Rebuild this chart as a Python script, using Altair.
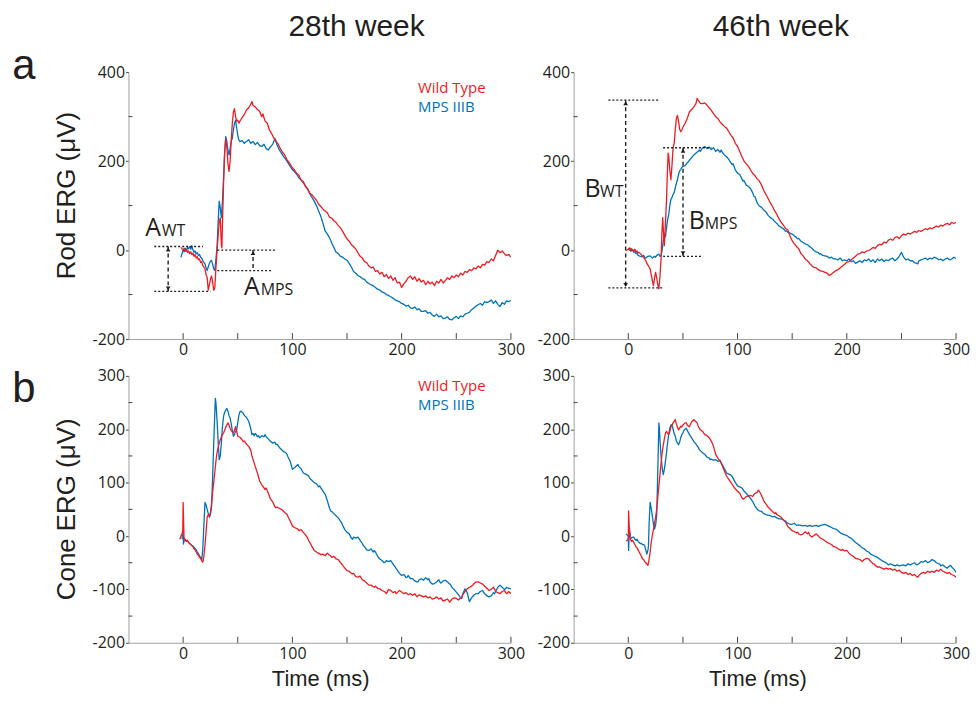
import altair as alt
import pandas as pd

RED = "#ED1C24"
BLUE = "#0072BC"
INK = "#231F20"

COLUMN_TITLES = ["28th week", "46th week"]
ROW_LETTERS = ["a", "b"]
Y_TITLES = ["Rod ERG (\u03bcV)", "Cone ERG (\u03bcV)"]
X_TITLE = "Time (ms)"
LEGEND = ["Wild Type", "MPS IIIB"]

X_DOMAIN = [-50, 300]
X_LABELS = [0, 100, 200, 300]
X_TICKS = [0, 50, 100, 150, 200, 250, 300]
ROD_DOMAIN = [-200, 400]
ROD_LABELS = [-200, 0, 200, 400]
ROD_MINOR = [-100, 100, 300]
CONE_DOMAIN = [-200, 300]
CONE_LABELS = [-200, -100, 0, 100, 200, 300]
CONE_MINOR = [-150, -50, 50, 150, 250]

# ---- traces (t in ms, value in uV) ----
ROD28_WT = [(-2,6),(0,0),(1,4),(2,-3),(3,2),(4,-5),(5,-2),(6,-8),(7,-4),(8,-10),(9,-7),(10,-14),(11,-10),(12,-18),(13,-15),(14,-22),(15,-20),(16,-28),(17,-26),(18,-35),(19,-38),(20,-42),(21,-55),(22,-62),(23,-90),(24,-78),(25,-65),(26,-58),(27,-72),(28,-90),(29,-85),(30,-40),(31,-5),(32,30),(33,65),(34,72),(35,10),(35.5,5),(36,60),(37,150),(38,220),(39,250),(40,232),(41,195),(42,177),(43,200),(44,245),(45,285),(46,310),(47,318),(48,300),(49,290),(50,292),(51,285),(52,290),(54,298),(56,305),(58,315),(60,320),(62,328),(63,334),(64,325),(66,322),(68,316),(70,312),(72,300),(73,306),(75,290),(77,285),(79,270),(81,262),(83,252),(85,245),(87,238),(89,228),(91,220),(93,214),(95,203),(97,197),(100,185),(102,180),(104,172),(106,168),(108,157),(110,154),(112,143),(114,138),(116,128),(118,124),(120,118),(122,112),(124,103),(126,98),(128,92),(130,88),(132,84),(134,74),(136,72),(138,66),(140,62),(142,55),(144,50),(146,42),(148,33),(150,25),(152,20),(154,12),(156,8),(158,2),(160,-6),(162,-14),(164,-18),(166,-26),(168,-28),(170,-36),(172,-40),(174,-38),(176,-48),(178,-46),(180,-54),(182,-50),(184,-60),(186,-55),(188,-64),(190,-58),(192,-68),(194,-62),(196,-74),(198,-72),(200,-84),(202,-76),(204,-70),(206,-62),(208,-58),(210,-66),(212,-60),(214,-70),(216,-64),(218,-72),(220,-68),(222,-78),(224,-70),(226,-76),(228,-72),(230,-80),(232,-70),(234,-74),(236,-66),(238,-74),(240,-68),(242,-62),(244,-66),(246,-58),(248,-62),(250,-56),(252,-60),(254,-52),(256,-56),(258,-48),(260,-50),(262,-44),(264,-46),(266,-40),(268,-42),(270,-36),(272,-40),(274,-32),(276,-34),(278,-26),(280,-28),(282,-20),(284,-24),(286,-12),(288,0),(290,-6),(292,-2),(294,-8),(296,-12),(298,-10),(300,-16)]

ROD28_MPS = [(-2,-16),(-1,-8),(0,0),(1,-4),(2,4),(3,-2),(4,6),(5,3),(6,8),(7,2),(8,10),(9,0),(10,-5),(11,-2),(12,-8),(13,-6),(14,-12),(15,-10),(16,-16),(17,-18),(18,-24),(19,-28),(20,-31),(21,-40),(22,-46),(23,-38),(24,-30),(25,-25),(26,-23),(27,-32),(28,-42),(29,-46),(30,-20),(31,6),(32,60),(33,110),(34,95),(35,73),(36,110),(37,162),(38,220),(39,255),(40,245),(41,225),(42,214),(43,228),(44,245),(45,251),(46,270),(47,285),(48,292),(49,275),(50,258),(51,248),(52,244),(54,246),(56,240),(58,244),(60,248),(62,240),(64,244),(66,237),(68,242),(70,235),(72,233),(74,238),(76,228),(78,225),(80,232),(82,238),(84,251),(86,236),(88,225),(90,218),(92,210),(94,204),(96,196),(98,188),(100,181),(102,176),(104,170),(106,162),(108,158),(110,151),(112,144),(114,136),(116,126),(118,118),(120,110),(122,100),(124,88),(126,76),(128,60),(130,43),(132,36),(134,28),(136,16),(138,6),(140,-5),(142,-8),(144,-14),(146,-16),(148,-20),(150,-23),(152,-30),(154,-38),(156,-48),(158,-52),(160,-57),(162,-60),(164,-64),(166,-66),(168,-72),(170,-75),(172,-78),(174,-80),(176,-84),(178,-88),(180,-90),(182,-94),(184,-96),(186,-100),(188,-102),(190,-105),(192,-108),(194,-112),(196,-114),(198,-116),(200,-120),(202,-122),(204,-126),(206,-124),(208,-130),(210,-131),(212,-128),(214,-134),(216,-132),(218,-138),(220,-138),(222,-136),(224,-142),(226,-140),(228,-146),(230,-149),(232,-144),(234,-150),(236,-148),(238,-154),(240,-153),(242,-150),(244,-156),(246,-157),(248,-152),(250,-149),(252,-154),(254,-148),(256,-150),(258,-144),(260,-142),(262,-140),(264,-134),(266,-130),(268,-126),(270,-123),(272,-120),(274,-124),(276,-116),(278,-118),(280,-116),(282,-112),(284,-120),(286,-114),(288,-122),(290,-127),(292,-118),(294,-122),(296,-114),(298,-116),(300,-113)]

ROD46_WT = [(-2,-1),(0,2),(1,5),(2,-2),(3,3),(4,0),(5,-1),(6,2),(7,-4),(8,-2),(9,-6),(10,-5),(11,-8),(12,-10),(13,-14),(14,-16),(15,-20),(16,-24),(17,-30),(18,-34),(19,-38),(20,-42),(21,-55),(22,-68),(23,-80),(24,-64),(25,-50),(26,-62),(27,-78),(28,-87),(29,-60),(30,-20),(30.8,40),(31.5,73),(32.2,40),(33,10),(34,60),(35,114),(36,190),(36.5,218),(37,212),(38,180),(39,158),(40,190),(41,230),(42,240),(43,270),(44,295),(45,303),(46,290),(47,272),(48,266),(49,270),(50,276),(52,285),(54,296),(56,311),(58,316),(60,322),(62,330),(63,341),(64,337),(66,330),(68,329),(70,331),(72,326),(74,320),(76,314),(78,307),(80,300),(82,296),(84,288),(86,283),(88,278),(90,274),(92,266),(94,258),(96,252),(98,240),(100,233),(102,222),(104,210),(106,200),(108,194),(110,188),(112,180),(114,172),(116,167),(118,160),(120,155),(122,146),(124,134),(126,125),(128,116),(130,106),(132,98),(134,88),(136,80),(138,70),(140,62),(142,56),(144,48),(146,46),(148,32),(150,21),(152,14),(154,8),(156,3),(158,-8),(160,-13),(162,-20),(164,-24),(166,-30),(168,-35),(170,-39),(172,-40),(174,-44),(176,-47),(178,-48),(180,-50),(182,-52),(184,-57),(186,-54),(188,-50),(190,-46),(192,-44),(194,-40),(196,-36),(198,-32),(200,-27),(202,-26),(204,-22),(206,-18),(208,-14),(210,-9),(212,-8),(214,-4),(216,-6),(218,-2),(220,-1),(222,2),(224,6),(226,4),(228,10),(230,13),(232,12),(234,18),(236,16),(238,22),(240,25),(242,22),(244,28),(246,30),(248,26),(250,32),(252,36),(254,34),(256,38),(258,36),(260,39),(262,42),(264,40),(266,44),(268,42),(270,45),(272,48),(274,46),(276,50),(278,48),(280,51),(282,54),(284,52),(286,56),(288,54),(290,58),(292,60),(294,57),(296,62),(298,60),(300,62)]

ROD46_MPS = [(0,2),(1,0),(2,4),(3,-2),(4,0),(5,-5),(6,-3),(7,-8),(8,-6),(9,-12),(10,-13),(12,-15),(14,-12),(15,-16),(16,-18),(18,-14),(20,-13),(22,-18),(24,-14),(25,-16),(26,-12),(28,-9),(29,-14),(30,-13),(31,0),(32,20),(33,32),(34,30),(35,50),(36,69),(37,80),(38,100),(39,114),(40,118),(41,125),(42,129),(43,140),(44,150),(45,158),(46,170),(47,178),(48,181),(49,186),(50,188),(52,190),(54,196),(55,199),(56,202),(58,208),(60,214),(62,218),(64,222),(65,225),(66,222),(68,230),(70,233),(72,228),(74,232),(75,229),(76,226),(78,230),(80,222),(82,226),(84,220),(85,225),(86,220),(88,214),(90,210),(92,204),(94,196),(95,192),(96,194),(98,180),(100,173),(102,170),(104,160),(105,155),(106,156),(108,146),(110,143),(112,138),(114,128),(115,121),(116,120),(118,106),(120,99),(122,96),(124,90),(125,88),(126,86),(128,78),(130,73),(132,70),(134,64),(135,62),(136,60),(138,54),(140,51),(142,48),(144,42),(145,43),(146,40),(148,38),(150,36),(152,32),(154,28),(155,25),(156,26),(158,20),(160,17),(162,14),(164,12),(165,10),(166,8),(168,4),(170,-1),(172,-4),(174,-6),(175,-9),(176,-8),(178,-12),(180,-13),(182,-14),(184,-18),(186,-16),(188,-20),(190,-20),(192,-22),(194,-18),(196,-24),(198,-22),(200,-24),(202,-20),(204,-26),(206,-24),(208,-30),(210,-27),(212,-24),(214,-28),(216,-22),(218,-24),(220,-20),(222,-26),(224,-22),(226,-28),(228,-20),(230,-24),(232,-20),(234,-26),(236,-22),(238,-24),(240,-20),(242,-18),(244,-24),(246,-20),(248,-14),(250,-5),(252,-16),(254,-22),(256,-20),(258,-24),(260,-24),(262,-28),(264,-30),(265,-31),(266,-24),(268,-22),(270,-20),(272,-18),(274,-22),(276,-18),(278,-20),(280,-16),(282,-18),(284,-22),(286,-20),(288,-24),(290,-20),(292,-18),(294,-22),(296,-20),(298,-16),(300,-19)]

CONE28_WT = [(-3,-6),(-2,0),(-1,4),(-0.3,10),(0,63),(0.4,30),(0.8,-2),(1.5,-9),(2,-6),(3,-10),(4,-8),(5,-12),(6,-14),(7,-16),(8,-18),(9,-20),(10,-24),(11,-26),(12,-30),(13,-34),(14,-36),(15,-40),(16,-42),(17,-46),(18,-49),(19,-38),(20,-18),(21,8),(22,35),(23,40),(24,38),(25,44),(26,60),(27,82),(28,100),(29,120),(30,140),(31,156),(32,165),(33,174),(34,180),(35,186),(36,190),(37,193),(38,198),(39,204),(40,208),(41,212),(42,208),(43,202),(44,198),(45,195),(46,193),(47,198),(48,205),(49,196),(50,187),(52,185),(54,180),(55,177),(56,178),(58,172),(60,168),(62,160),(63,150),(65,137),(66,130),(68,118),(70,103),(72,96),(74,90),(75,87),(76,90),(78,80),(80,69),(82,64),(84,55),(85,53),(86,54),(88,52),(90,50),(92,46),(94,42),(95,41),(96,36),(98,28),(100,19),(102,16),(104,14),(105,13),(106,10),(108,12),(110,7),(112,2),(114,-4),(115,-9),(116,-12),(118,-20),(120,-27),(122,-30),(124,-33),(125,-33),(126,-35),(128,-34),(130,-37),(132,-32),(134,-36),(135,-37),(136,-40),(138,-38),(140,-43),(142,-44),(144,-50),(145,-52),(146,-55),(148,-60),(150,-65),(152,-66),(154,-70),(155,-71),(156,-70),(158,-76),(160,-77),(162,-75),(164,-82),(165,-83),(166,-84),(168,-88),(170,-92),(172,-92),(174,-95),(175,-96),(176,-94),(178,-98),(180,-99),(182,-102),(184,-104),(185,-105),(186,-108),(188,-100),(190,-102),(192,-106),(194,-104),(195,-108),(196,-106),(198,-102),(200,-105),(202,-108),(204,-106),(206,-110),(208,-108),(210,-111),(212,-108),(214,-114),(216,-110),(218,-112),(220,-114),(222,-112),(224,-116),(226,-114),(228,-118),(230,-117),(232,-114),(234,-118),(236,-116),(238,-122),(240,-120),(242,-118),(244,-124),(246,-118),(248,-116),(250,-117),(252,-120),(254,-116),(255,-114),(256,-110),(258,-104),(260,-99),(262,-96),(264,-94),(265,-92),(266,-90),(268,-86),(270,-86),(272,-88),(274,-90),(275,-92),(276,-94),(278,-98),(280,-102),(282,-100),(284,-96),(285,-99),(286,-104),(288,-106),(290,-108),(292,-104),(294,-102),(295,-105),(296,-108),(298,-104),(300,-108)]

CONE28_MPS = [(-1,-6),(-0.3,2),(0,7),(0.3,-15),(0.8,-8),(1.5,-6),(2,-8),(3,-10),(4,-9),(5,-12),(6,-14),(7,-16),(8,-18),(9,-19),(10,-21),(11,-24),(12,-26),(13,-30),(14,-33),(15,-37),(16,-40),(17,-46),(18,-24),(19,20),(20,63),(21,58),(22,50),(23,42),(24,35),(25,40),(26,56),(27,110),(28,174),(29,230),(29.5,258),(30,250),(31,218),(32,180),(33,143),(34,150),(35,174),(36,205),(37,224),(38,232),(39,236),(40,239),(41,234),(42,226),(43,221),(44,210),(45,198),(46,187),(47,190),(48,196),(49,199),(50,212),(51,226),(52,233),(53,234),(54,232),(55,230),(56,226),(58,222),(60,215),(61,208),(62,200),(63,190),(64,192),(65,188),(66,192),(67,190),(68,186),(69,188),(70,184),(72,188),(74,186),(75,190),(76,186),(78,182),(80,177),(82,174),(84,176),(85,171),(86,172),(88,166),(90,162),(92,158),(94,156),(95,153),(96,148),(98,140),(100,125),(102,128),(104,132),(105,134),(106,130),(108,126),(110,118),(112,116),(114,114),(115,112),(116,108),(118,104),(120,100),(122,98),(124,92),(125,94),(126,90),(128,84),(130,78),(132,66),(134,52),(135,47),(136,46),(138,42),(140,38),(142,34),(144,28),(145,25),(146,20),(148,12),(150,7),(152,4),(154,-4),(155,-6),(156,-2),(158,-4),(160,-2),(162,-8),(164,-14),(165,-18),(166,-20),(168,-26),(170,-27),(172,-24),(174,-30),(175,-27),(176,-30),(178,-38),(180,-43),(182,-46),(184,-50),(185,-49),(186,-46),(188,-48),(190,-46),(192,-52),(194,-58),(195,-61),(196,-64),(198,-70),(200,-74),(202,-72),(204,-78),(205,-77),(206,-74),(208,-80),(210,-80),(212,-84),(214,-86),(215,-86),(216,-82),(218,-80),(220,-83),(222,-78),(224,-82),(225,-80),(226,-86),(228,-90),(230,-89),(232,-86),(234,-82),(235,-86),(236,-88),(238,-84),(240,-83),(242,-86),(244,-90),(245,-92),(246,-96),(248,-100),(250,-105),(252,-110),(254,-116),(255,-117),(256,-108),(258,-99),(260,-106),(262,-123),(264,-116),(266,-111),(268,-108),(270,-108),(272,-104),(274,-102),(275,-105),(276,-108),(278,-112),(280,-114),(282,-112),(284,-106),(285,-108),(286,-104),(288,-96),(290,-92),(292,-96),(294,-100),(295,-99),(296,-96),(298,-98),(300,-99)]

CONE46_WT = [(-2,-9),(-1,-8),(0,-6),(0.3,47),(0.8,20),(1.5,1),(2,-6),(3,-10),(4,-8),(5,-12),(6,-16),(7,-20),(8,-22),(9,-26),(10,-30),(11,-34),(12,-38),(13,-43),(14,-44),(15,-48),(16,-50),(17,-52),(18,-55),(19,-44),(20,-30),(21,-12),(22,1),(23,12),(24,24),(25,35),(26,50),(27,72),(28,94),(29,115),(30,136),(31,156),(32,170),(33,182),(34,193),(35,196),(36,192),(37,190),(38,196),(39,204),(40,208),(41,212),(42,215),(43,218),(44,210),(45,204),(46,199),(47,202),(48,206),(49,204),(50,208),(51,210),(52,212),(53,212),(54,208),(55,206),(56,205),(57,210),(58,214),(59,216),(60,218),(61,216),(62,214),(63,212),(64,206),(65,202),(66,199),(68,196),(70,190),(72,188),(74,184),(75,181),(76,178),(78,168),(80,153),(82,146),(84,140),(85,137),(86,132),(88,122),(90,112),(92,106),(94,100),(95,97),(96,94),(98,88),(100,84),(102,80),(104,72),(105,69),(106,70),(108,74),(110,75),(112,76),(114,74),(115,78),(116,80),(118,82),(119,86),(120,84),(122,76),(124,66),(125,63),(126,60),(128,54),(130,50),(132,46),(134,42),(135,44),(136,40),(138,38),(140,35),(142,30),(144,26),(145,22),(146,18),(148,14),(150,10),(152,8),(154,6),(155,7),(156,4),(158,2),(160,4),(162,8),(164,4),(165,7),(166,2),(168,-2),(170,1),(172,4),(174,0),(175,-2),(176,-4),(178,-6),(180,-9),(182,-12),(184,-14),(185,-15),(186,-16),(188,-20),(190,-21),(192,-24),(194,-26),(195,-27),(196,-25),(198,-28),(200,-27),(202,-32),(204,-36),(205,-37),(206,-38),(208,-42),(210,-43),(212,-44),(214,-48),(215,-46),(216,-44),(218,-42),(220,-43),(222,-48),(224,-52),(225,-52),(226,-55),(228,-58),(230,-58),(232,-60),(234,-62),(236,-60),(238,-62),(240,-61),(242,-64),(244,-62),(246,-66),(248,-64),(250,-68),(252,-70),(254,-68),(256,-72),(258,-70),(260,-74),(262,-72),(264,-76),(265,-77),(266,-74),(268,-70),(270,-68),(272,-70),(274,-66),(276,-68),(278,-66),(280,-68),(282,-64),(284,-66),(286,-62),(288,-66),(290,-68),(292,-70),(294,-68),(295,-71),(296,-72),(298,-74),(300,-77)]

CONE46_MPS = [(-2,4),(-1,2),(0,1),(0.3,-27),(0.6,-10),(0.9,16),(1.5,5),(2,-2),(3,-4),(4,-2),(5,-2),(6,-6),(7,-8),(8,-6),(9,-10),(10,-12),(11,-14),(12,-14),(13,-16),(14,-16),(15,-18),(16,-26),(17,-34),(18,-26),(18.5,-18),(19,20),(20,63),(21,52),(22,38),(23,22),(24,13),(25,20),(26,38),(27,120),(28,212),(28.5,200),(29,180),(30,150),(31,128),(32,115),(33,125),(34,140),(35,156),(36,175),(37,190),(38,202),(39,208),(40,208),(41,200),(42,192),(43,187),(44,178),(45,174),(46,171),(47,176),(48,184),(49,190),(50,193),(51,198),(52,200),(53,202),(54,198),(55,194),(56,190),(58,184),(60,177),(62,172),(64,166),(65,162),(66,160),(68,156),(70,153),(72,148),(74,146),(75,143),(76,144),(78,142),(80,143),(82,140),(84,142),(85,137),(86,134),(88,126),(90,118),(92,116),(94,114),(95,112),(96,108),(98,100),(100,94),(102,92),(104,90),(105,87),(106,84),(108,80),(110,75),(112,70),(114,64),(115,60),(116,56),(118,50),(120,47),(122,46),(124,42),(125,41),(126,40),(128,39),(130,38),(132,36),(134,37),(135,35),(136,34),(138,32),(140,32),(142,30),(144,28),(145,25),(146,24),(148,22),(150,22),(152,24),(154,20),(156,21),(158,20),(160,19),(162,20),(164,18),(166,20),(168,18),(170,19),(172,20),(174,18),(176,20),(178,21),(180,22),(182,20),(184,18),(186,16),(188,14),(190,13),(192,10),(194,6),(196,4),(198,2),(200,1),(202,-2),(204,-4),(206,-8),(208,-12),(210,-15),(212,-18),(214,-22),(216,-24),(218,-28),(220,-30),(222,-34),(224,-36),(226,-38),(228,-40),(230,-43),(232,-46),(234,-48),(236,-50),(238,-54),(240,-52),(242,-54),(244,-56),(246,-54),(248,-56),(250,-55),(252,-54),(254,-56),(256,-52),(258,-54),(260,-52),(262,-50),(264,-54),(266,-52),(268,-48),(270,-49),(272,-46),(274,-50),(276,-48),(278,-44),(280,-46),(282,-50),(284,-52),(285,-52),(286,-56),(288,-54),(290,-58),(292,-60),(294,-56),(295,-55),(296,-58),(298,-62),(300,-68)]

# ---- annotations (data units) ----
ROD28_DOTTED = [(-26.4, 18.2, 8), (-26.4, 25, -93), (31.3, 86, 0), (31.3, 81.5, -46)]
ROD28_ARROWS = [(-13.7, 8, -93), (64, 0, -46)]
ROD28_HEADS_UP = [(-13.7, 8), (64, 0)]
ROD28_HEADS_DOWN = [(-13.7, -93)]
ROD28_BIG = [("A", -34.6, 32), ("A", 55.6, -100)]
ROD28_SMALL = [("WT", -19.5, 32), ("MPS", 71, -100)]

ROD46_DOTTED = [(-18.2, 28.8, 337), (-18.2, 31.9, -85), (31.9, 76, 230), (31.9, 67, -14)]
ROD46_ARROWS = [(-2.4, 337, -85), (50.1, 230, -14)]
ROD46_HEADS_UP = [(-2.4, 337), (50.1, 230)]
ROD46_HEADS_DOWN = [(-2.4, -85), (50.1, -14)]
ROD46_BIG = [("B", -40, 120), ("B", 55.3, 47)]
ROD46_SMALL = [("WT", -25.8, 120), ("MPS", 70, 47)]

ROD_LEGEND_POS = [(215, 354), (215, 311)]
CONE_LEGEND_POS = [(215, 272), (215, 236)]

W, H = 384, 268

LABEL_EXPR = "replace(datum.label, '\u2212', '-')"


def xenc(field="t"):
    return alt.X(f"{field}:Q", scale=alt.Scale(domain=X_DOMAIN, nice=False, zero=False),
                 axis=alt.Axis(values=X_LABELS, ticks=False, tickSize=0, labelPadding=3,
                               title=None, grid=False, labelFlush=False))


def yenc(domain, labels, field="v"):
    return alt.Y(f"{field}:Q", scale=alt.Scale(domain=domain, nice=False, zero=False),
                 axis=alt.Axis(values=labels, tickSize=3, labelPadding=1, title=None, grid=False,
                               labelExpr=LABEL_EXPR))


def one():
    return alt.Data(values=[{"k": 0}])


def pix_text(text, x, y, size, font="Liberation Sans", angle=0, align="center", baseline="alphabetic", color=INK):
    kw = dict(text=text, font=font, fontSize=size, align=align, baseline=baseline, color=color)
    if angle:
        kw["angle"] = angle
    return alt.Chart(one()).mark_text(**kw).encode(x=alt.value(x), y=alt.value(y))


def panel(wt, mps, domain, labels, minor, dotted=None, arrows=None, up=None, down=None,
          big=None, small=None, legend_pos=None, extras=()):
    Y = lambda f="v": yenc(domain, labels, f)
    layers = []
    xt = pd.DataFrame({"t": X_TICKS})
    layers.append(alt.Chart(xt).mark_rule(color="#444", strokeWidth=1).encode(
        x=xenc(), y=alt.value(H), y2=alt.value(H - 6)))
    yt = pd.DataFrame({"v": minor})
    layers.append(alt.Chart(yt).mark_rule(color="#444", strokeWidth=1).encode(
        y=Y(), x=alt.value(0), x2=alt.value(4)))
    for pairs, col in ((mps, BLUE), (wt, RED)):
        df = pd.DataFrame(pairs, columns=["t", "v"])
        layers.append(alt.Chart(df).mark_line(color=col, strokeWidth=1.3, clip=True,
                                              strokeJoin="round").encode(
            x=xenc(), y=Y(), order="t:Q"))
    if dotted:
        d = pd.DataFrame(dotted, columns=["t", "t2", "v"])
        layers.append(alt.Chart(d).mark_rule(color=INK, strokeWidth=1.3, strokeDash=[2, 2]).encode(
            x=xenc(), x2="t2:Q", y=Y()))
    if arrows:
        a = pd.DataFrame(arrows, columns=["t", "v", "v2"])
        layers.append(alt.Chart(a).mark_rule(color=INK, strokeWidth=1.4, strokeDash=[4, 3]).encode(
            x=xenc(), y=Y(), y2="v2:Q"))
    if up:
        u = pd.DataFrame(up, columns=["t", "v"])
        layers.append(alt.Chart(u).mark_point(shape="triangle-up", filled=True, size=22, color=INK,
                                              opacity=1, yOffset=3).encode(x=xenc(), y=Y()))
    if down:
        dd = pd.DataFrame(down, columns=["t", "v"])
        layers.append(alt.Chart(dd).mark_point(shape="triangle-down", filled=True, size=22, color=INK,
                                               opacity=1, yOffset=-3).encode(x=xenc(), y=Y()))
    if big:
        b = pd.DataFrame(big, columns=["s", "t", "v"])
        layers.append(alt.Chart(b).mark_text(font="Open Sans", fontSize=25, align="left",
                                             baseline="alphabetic", color=INK).encode(
            x=xenc(), y=Y(), text="s:N"))
    if small:
        s = pd.DataFrame(small, columns=["s", "t", "v"])
        layers.append(alt.Chart(s).mark_text(font="Open Sans", fontSize=16, align="left",
                                             baseline="alphabetic", color=INK).encode(
            x=xenc(), y=Y(), text="s:N"))
    if legend_pos:
        lg = pd.DataFrame({"s": LEGEND, "t": [p[0] for p in legend_pos],
                           "v": [p[1] for p in legend_pos], "c": [RED, BLUE]})
        layers.append(alt.Chart(lg).mark_text(font="Open Sans", fontSize=15, align="left",
                                              baseline="alphabetic").encode(
            x=xenc(), y=Y(), text="s:N", color=alt.Color("c:N", scale=None)))
    layers.extend(extras)
    return alt.layer(*layers).properties(width=W, height=H)


anchor = alt.Chart(one()).mark_rect(opacity=0).encode(
    x=alt.value(-121), x2=alt.value(-120), y=alt.value(-63), y2=alt.value(-62))

tl = panel(ROD28_WT, ROD28_MPS, ROD_DOMAIN, ROD_LABELS, ROD_MINOR,
           dotted=ROD28_DOTTED, arrows=ROD28_ARROWS, up=ROD28_HEADS_UP, down=ROD28_HEADS_DOWN,
           big=ROD28_BIG, small=ROD28_SMALL, legend_pos=ROD_LEGEND_POS,
           extras=[anchor,
                   pix_text(COLUMN_TITLES[0], 229, -36, 30),
                   pix_text(ROW_LETTERS[0], -105, 7, 42),
                   pix_text(Y_TITLES[0], -54, 124, 26, angle=270)])

tr = panel(ROD46_WT, ROD46_MPS, ROD_DOMAIN, ROD_LABELS, ROD_MINOR,
           dotted=ROD46_DOTTED, arrows=ROD46_ARROWS, up=ROD46_HEADS_UP, down=ROD46_HEADS_DOWN,
           big=ROD46_BIG, small=ROD46_SMALL,
           extras=[pix_text(COLUMN_TITLES[1], 208, -36, 30)])

bl = panel(CONE28_WT, CONE28_MPS, CONE_DOMAIN, CONE_LABELS, CONE_MINOR,
           legend_pos=CONE_LEGEND_POS,
           extras=[pix_text(ROW_LETTERS[1], -105, 26, 42),
                   pix_text(Y_TITLES[1], -54, 134, 26, angle=270),
                   pix_text(X_TITLE, 193, 311, 22)])

br = panel(CONE46_WT, CONE46_MPS, CONE_DOMAIN, CONE_LABELS, CONE_MINOR,
           extras=[pix_text(X_TITLE, 185, 311, 22)])

chart = alt.concat(tl, tr, bl, br, columns=2, spacing={"row": 37, "column": 63},
                   bounds="flush", padding=0).configure_view(stroke=None).configure_axis(
    domainColor="#a0a0a0", domainWidth=1, tickColor="#444", labelFont="Open Sans",
    labelFontSize=16, labelColor=INK, grid=False)

chart.save("out.html", embed_options={"renderer": "svg", "actions": False})
